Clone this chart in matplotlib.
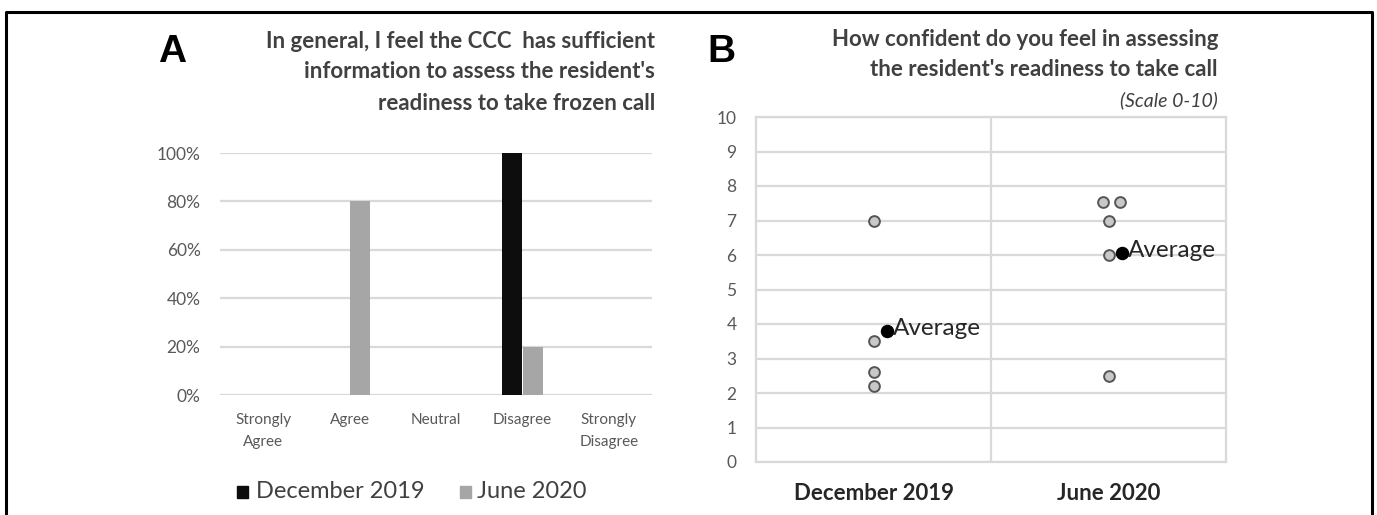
import matplotlib
matplotlib.use("Agg")
import matplotlib.pyplot as plt
from matplotlib.lines import Line2D
from matplotlib.patches import Rectangle

# ---------------- data ----------------
# Panel A
categories_a = ["Strongly\nAgree", "Agree", "Neutral", "Disagree", "Strongly\nDisagree"]
dec2019_pct = [0.0, 0.0, 0.0, 1.00, 0.0]
jun2020_pct = [0.0, 0.80, 0.0, 0.20, 0.0]
yticks_a = [0, 0.2, 0.4, 0.6, 0.8, 1.0]
yticklabels_a = ["0%", "20%", "40%", "60%", "80%", "100%"]
series_a = ["December 2019", "June 2020"]
title_a_lines = ["In general, I feel the CCC  has sufficient",
                 "information to assess the resident's",
                 "readiness to take frozen call"]

# Panel B
categories_b = ["December 2019", "June 2020"]
dec_scores = [7.0, 3.5, 2.6, 2.2]
dec_offsets = [0.0, 0.0, 0.0, 0.0]
jun_scores = [7.55, 7.55, 7.0, 6.0, 2.5]
jun_offsets = [-0.025, 0.05, 0.0, 0.0, 0.0]
dec_avg = 3.8
jun_avg = 6.05
avg_offset = 0.057
avg_label = "Average"
title_b_lines = ["How confident do you feel in assessing",
                 "the resident's readiness to take call"]
subtitle_b = "(Scale 0-10)"

# ---------------- figure ----------------
W, H = 1377, 515
fig = plt.figure(figsize=(W / 100, H / 100), dpi=100)
fig.patch.set_facecolor("white")

FONT = ["Lato", "DejaVu Sans"]
plt.rcParams["font.family"] = FONT

def fx(px):
    return px / W

def fy(py):
    return 1 - py / H

# outer frame (left, top, right)
fig.add_artist(Line2D([fx(6), fx(6), fx(1372), fx(1372)],
                      [-0.05, fy(12), fy(12), -0.05],
                      transform=fig.transFigure, color="black", lw=2.2))

# ---------------- Panel A ----------------
axA = fig.add_axes([fx(220), fy(395), fx(652) - fx(220), fy(153) - fy(395)])
x = list(range(len(categories_a)))
bw = 0.23
gap = 0.02
axA.bar([i - bw / 2 - gap / 2 for i in x], dec2019_pct, width=bw, color="#0d0d0d", zorder=3)
axA.bar([i + bw / 2 + gap / 2 for i in x], jun2020_pct, width=bw, color="#a6a6a6", zorder=3)
axA.set_xlim(-0.5, len(categories_a) - 0.5)
axA.set_ylim(0, 1.0)
axA.set_yticks(yticks_a)
axA.set_yticklabels(yticklabels_a, fontsize=12.5, color="#595959")
axA.set_xticks(x)
axA.set_xticklabels(categories_a, fontsize=11, color="#595959", linespacing=1.7)
axA.tick_params(axis="both", length=0)
axA.tick_params(axis="y", pad=14)
axA.tick_params(axis="x", pad=13)
for s in axA.spines.values():
    s.set_visible(False)
axA.yaxis.grid(True, color="#d9d9d9", lw=1.6, zorder=0)
axA.set_axisbelow(True)

fig.text(fx(158), fy(52), "A", fontsize=28, fontweight="bold", family=["Liberation Sans", "DejaVu Sans"],
         va="center", ha="left", color="black")
for line, yc in zip(title_a_lines, [42, 72, 103]):
    fig.text(fx(655), fy(yc), line, fontsize=16, fontweight="bold", color="#404040",
             ha="right", va="center")

# legend
lx, ly = 237, 492
fig.add_artist(Rectangle((fx(lx), fy(ly + 6)), fx(11), (12 / H), transform=fig.transFigure,
                         color="#0d0d0d"))
fig.text(fx(lx + 19), fy(ly), series_a[0], fontsize=17, color="#404040", va="center", ha="left")
fig.add_artist(Rectangle((fx(460), fy(ly + 6)), fx(11), (12 / H), transform=fig.transFigure,
                         color="#a6a6a6"))
fig.text(fx(477), fy(ly), series_a[1], fontsize=17, color="#404040", va="center", ha="left")

# ---------------- Panel B ----------------
axB = fig.add_axes([fx(756), fy(462), fx(1226) - fx(756), fy(117) - fy(462)])
axB.set_xlim(0.5, 2.5)
axB.set_ylim(0, 10)
axB.set_yticks(range(0, 11))
axB.set_yticklabels([str(v) for v in range(0, 11)], fontsize=12.5, color="#595959")
axB.set_xticks([1, 2])
axB.set_xticklabels(categories_b, fontsize=16, color="#262626", fontweight="bold")
axB.tick_params(axis="both", length=0)
axB.tick_params(axis="y", pad=14)
axB.tick_params(axis="x", pad=15)
for s in axB.spines.values():
    s.set_color("#d9d9d9")
    s.set_linewidth(1.6)
axB.yaxis.grid(True, color="#d9d9d9", lw=1.6, zorder=0)
axB.axvline(1.5, color="#d9d9d9", lw=1.6, zorder=0)
axB.set_axisbelow(True)

axB.scatter([1 + o for o in dec_offsets], dec_scores, s=60, facecolor="#c8c8c8",
            edgecolor="#555555", linewidths=1.4, zorder=3, clip_on=False)
axB.scatter([2 + o for o in jun_offsets], jun_scores, s=60, facecolor="#c8c8c8",
            edgecolor="#555555", linewidths=1.4, zorder=3, clip_on=False)
axB.scatter([1 + avg_offset, 2 + avg_offset], [dec_avg, jun_avg], s=75, facecolor="black",
            edgecolor="black", zorder=4)
for xv, yv in [(1 + avg_offset, dec_avg), (2 + avg_offset, jun_avg)]:
    axB.annotate(avg_label, (xv, yv), xytext=(4, 2), textcoords="offset points",
                 fontsize=17.5, color="#262626", va="center", ha="left", zorder=5)

fig.text(fx(707), fy(52), "B", fontsize=28, fontweight="bold", family=["Liberation Sans", "DejaVu Sans"],
         va="center", ha="left", color="black")
for line, yc in zip(title_b_lines, [40, 70]):
    fig.text(fx(1218), fy(yc), line, fontsize=16, fontweight="bold", color="#404040",
             ha="right", va="center")
fig.text(fx(1218), fy(100), subtitle_b, fontsize=14, style="italic", color="#404040",
         ha="right", va="center")

fig.savefig("out.png", dpi=100, facecolor="white")
